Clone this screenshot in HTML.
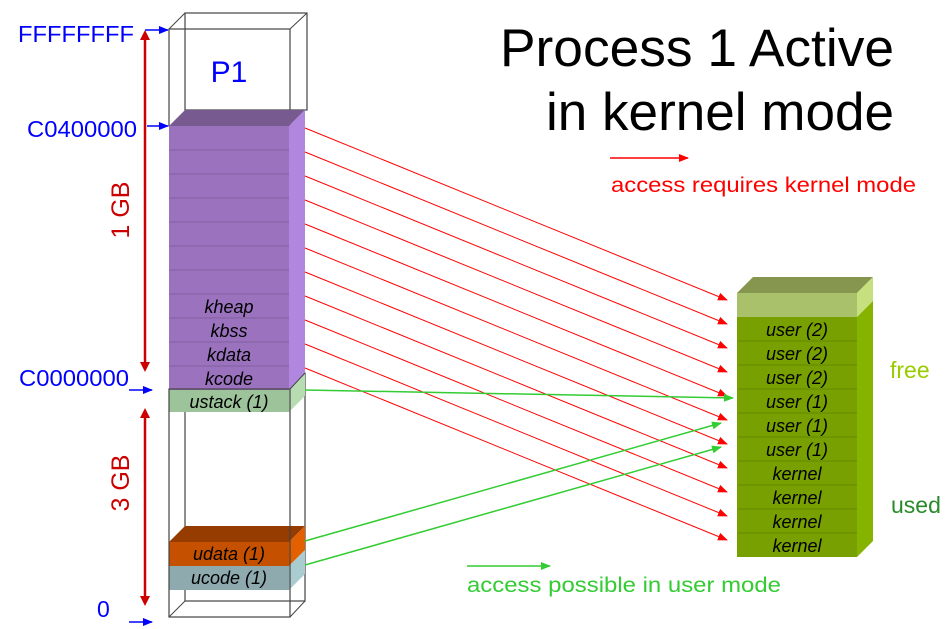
<!DOCTYPE html>
<html><head><meta charset="utf-8"><style>html,body{margin:0;padding:0;background:#fff}svg{display:block}</style></head>
<body>
<svg width="950" height="629" viewBox="0 0 950 629" xmlns="http://www.w3.org/2000/svg" font-family="Liberation Sans, sans-serif">
<defs>
<marker id="ar" markerWidth="10" markerHeight="8" refX="9" refY="4" orient="auto" markerUnits="userSpaceOnUse"><path d="M0,0 L10,4 L0,8 z" fill="#ff0000"/></marker>
<marker id="ag" markerWidth="10" markerHeight="8" refX="9" refY="4" orient="auto" markerUnits="userSpaceOnUse"><path d="M0,0 L10,4 L0,8 z" fill="#33cc33"/></marker>
<marker id="ab" markerWidth="10" markerHeight="8" refX="9" refY="4" orient="auto" markerUnits="userSpaceOnUse"><path d="M0,0 L10,4 L0,8 z" fill="#0000ff"/></marker>
</defs>

<!-- Title -->
<text x="500" y="66" font-size="53" textLength="394" lengthAdjust="spacingAndGlyphs" fill="#000">Process 1 Active</text>
<text x="546" y="130" font-size="53" textLength="348" lengthAdjust="spacingAndGlyphs" fill="#000">in kernel mode</text>
<line x1="610" y1="158" x2="688" y2="158" stroke="#ff0000" stroke-width="1.5" marker-end="url(#ar)"/>
<text x="611" y="192" font-size="21" fill="#ff0000" textLength="305" lengthAdjust="spacingAndGlyphs">access requires kernel mode</text>
<line x1="467" y1="566" x2="550" y2="566" stroke="#33cc33" stroke-width="1.5" marker-end="url(#ag)"/>
<text x="467" y="592" font-size="21" fill="#33cc33" textLength="314" lengthAdjust="spacingAndGlyphs">access possible in user mode</text>

<!-- Left column top box (P1) -->
<rect x="185" y="13" width="122" height="97" fill="none" stroke="#444" stroke-width="1.2"/>
<rect x="169" y="29" width="121" height="97" fill="none" stroke="#444" stroke-width="1.2"/>
<line x1="169" y1="29" x2="185" y2="13" stroke="#444"/>
<line x1="290" y1="29" x2="307" y2="13" stroke="#444"/>
<text x="229" y="82" font-size="30" fill="#0000ff" text-anchor="middle">P1</text>

<!-- Lower box frame back -->
<rect x="185" y="373" width="120" height="228" fill="none" stroke="#444" stroke-width="1.2"/>

<!-- Kernel purple -->
<polygon points="169,126 289,126 305,110 185,110" fill="#765a90"/>
<polygon points="289,126 305,110 305,374 289,390" fill="#b086de"/>
<rect x="169" y="126" width="120" height="264" fill="#9a72be"/>
<g stroke="#8a66aa" stroke-width="1.5">
<line x1="169" y1="150" x2="289" y2="150"/><line x1="169" y1="174" x2="289" y2="174"/>
<line x1="169" y1="198" x2="289" y2="198"/><line x1="169" y1="222" x2="289" y2="222"/>
<line x1="169" y1="246" x2="289" y2="246"/><line x1="169" y1="270" x2="289" y2="270"/>
<line x1="169" y1="294" x2="289" y2="294"/><line x1="169" y1="318" x2="289" y2="318"/>
<line x1="169" y1="342" x2="289" y2="342"/><line x1="169" y1="366" x2="289" y2="366"/>
</g>
<g font-size="18" font-style="italic" fill="#000" text-anchor="middle">
<text x="229" y="313">kheap</text><text x="229" y="337">kbss</text>
<text x="229" y="361">kdata</text><text x="229" y="385">kcode</text>
</g>

<!-- ustack -->
<polygon points="289,412 305,396 305,374 289,390" fill="#b8dcb2"/>
<rect x="169" y="390" width="120" height="22" fill="#9cc399"/>
<text x="229" y="408" font-size="18" font-style="italic" text-anchor="middle">ustack (1)</text>

<!-- udata / ucode -->
<polygon points="169,542 289,542 305,526 185,526" fill="#963c00"/>
<polygon points="289,542 305,526 305,550 289,566" fill="#e26000"/>
<rect x="169" y="542" width="120" height="24" fill="#c55100"/>
<polygon points="289,566 305,550 305,574 289,590" fill="#a9ccd0"/>
<rect x="169" y="566" width="120" height="24" fill="#8eaaae"/>
<g font-size="18" font-style="italic" text-anchor="middle">
<text x="229" y="560">udata (1)</text><text x="229" y="584">ucode (1)</text>
</g>

<!-- Lower box frame front -->
<rect x="169" y="389" width="121" height="228" fill="none" stroke="#444" stroke-width="1.2"/>
<line x1="169" y1="617" x2="185" y2="601" stroke="#444"/>
<line x1="290" y1="617" x2="305" y2="601" stroke="#444"/>
<line x1="290" y1="389" x2="305" y2="373" stroke="#444"/>

<!-- Address labels -->
<g font-size="23" fill="#0000ff">
<text x="18" y="42" textLength="116" lengthAdjust="spacingAndGlyphs">FFFFFFFF</text>
<text x="27" y="137" textLength="110" lengthAdjust="spacingAndGlyphs">C0400000</text>
<text x="19" y="386" textLength="110" lengthAdjust="spacingAndGlyphs">C0000000</text>
<text x="97" y="617">0</text>
</g>
<g stroke="#0000ff" stroke-width="1.5">
<line x1="145" y1="30" x2="168" y2="30" marker-end="url(#ab)"/>
<line x1="147" y1="126" x2="168" y2="126" marker-end="url(#ab)"/>
<line x1="129" y1="390" x2="152" y2="390" marker-end="url(#ab)"/>
<line x1="129" y1="622" x2="152" y2="622" marker-end="url(#ab)"/>
</g>
<!-- size arrows -->
<g stroke="#cc0000" stroke-width="2.5">
<line x1="145" y1="38" x2="145" y2="364"/>
<line x1="145" y1="416" x2="145" y2="598"/>
</g>
<g fill="#cc0000">
<path d="M140,40 L145,30 L150,40 z"/><path d="M140,362 L145,372 L150,362 z"/>
<path d="M140,418 L145,408 L150,418 z"/><path d="M140,596 L145,606 L150,596 z"/>
</g>
<text transform="translate(129,210) rotate(-90)" font-size="25" fill="#cc0000" text-anchor="middle">1 GB</text>
<text transform="translate(129,483) rotate(-90)" font-size="25" fill="#cc0000" text-anchor="middle">3 GB</text>

<!-- Right column -->
<polygon points="737,293 857,293 873,277 753,277" fill="#86964f"/>
<polygon points="857,293 873,277 873,301 857,317" fill="#c6e07f"/>
<rect x="737" y="293" width="120" height="24" fill="#aac16c"/>
<polygon points="857,317 873,301 873,541 857,557" fill="#86b300"/>
<rect x="737" y="317" width="120" height="240" fill="#78a000"/>
<g stroke="#6a8f00" stroke-width="1.5">
<line x1="737" y1="341" x2="857" y2="341"/><line x1="737" y1="365" x2="857" y2="365"/>
<line x1="737" y1="389" x2="857" y2="389"/><line x1="737" y1="413" x2="857" y2="413"/>
<line x1="737" y1="437" x2="857" y2="437"/><line x1="737" y1="461" x2="857" y2="461"/>
<line x1="737" y1="485" x2="857" y2="485"/><line x1="737" y1="509" x2="857" y2="509"/>
<line x1="737" y1="533" x2="857" y2="533"/>
</g>
<g font-size="18" font-style="italic" text-anchor="middle" fill="#000">
<text x="797" y="336">user (2)</text><text x="797" y="360">user (2)</text><text x="797" y="384">user (2)</text>
<text x="797" y="408">user (1)</text><text x="797" y="432">user (1)</text><text x="797" y="456">user (1)</text>
<text x="797" y="480">kernel</text><text x="797" y="504">kernel</text><text x="797" y="528">kernel</text><text x="797" y="552">kernel</text>
</g>
<text x="890" y="378" font-size="23" fill="#99cc00">free</text>
<text x="891" y="513" font-size="23" fill="#2a8a2a">used</text>

<!-- Red arrows -->
<g stroke="#ff0000" stroke-width="1" marker-end="url(#ar)">
<line x1="305" y1="128" x2="727" y2="300"/>
<line x1="305" y1="152" x2="727" y2="324"/>
<line x1="305" y1="176" x2="727" y2="348"/>
<line x1="305" y1="200" x2="727" y2="372"/>
<line x1="305" y1="224" x2="727" y2="396"/>
<line x1="305" y1="248" x2="727" y2="420"/>
<line x1="305" y1="272" x2="727" y2="444"/>
<line x1="305" y1="296" x2="727" y2="468"/>
<line x1="305" y1="320" x2="727" y2="492"/>
<line x1="305" y1="344" x2="727" y2="516"/>
<line x1="305" y1="368" x2="727" y2="540"/>
</g>
<!-- Green arrows -->
<g stroke="#33cc33" stroke-width="1.5" marker-end="url(#ag)">
<line x1="305" y1="390" x2="733" y2="398"/>
<line x1="305" y1="541" x2="721" y2="423"/>
<line x1="305" y1="565" x2="721" y2="447"/>
</g>
</svg>
</body></html>
